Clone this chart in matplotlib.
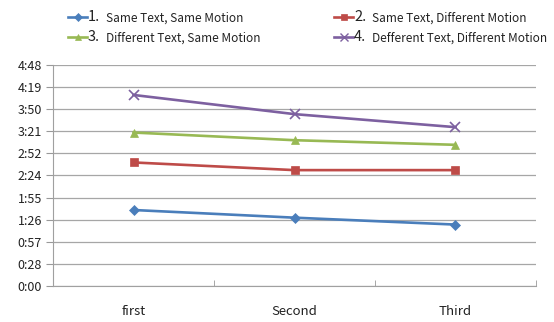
import numpy as np
import matplotlib
matplotlib.use("Agg")
import matplotlib.pyplot as plt
from matplotlib.lines import Line2D

plt.rcParams["font.family"] = ["Noto Sans CJK KR", "DejaVu Sans"]

# ---- data (seconds) ----
categories = ["first", "Second", "Third"]
s1 = [99, 89, 80]      # 1. Same Text, Same Motion
s2 = [161, 151, 151]   # 2. Same Text, Different Motion
s3 = [200, 190, 184]   # 3. Different Text, Same Motion
s4 = [249, 224, 207]   # 4. Defferent Text, Different Motion
ytick_vals = [0, 28.8, 57.6, 86.4, 115.2, 144, 172.8, 201.6, 230.4, 259.2, 288]
ytick_labels = ["0:00", "0:28", "0:57", "1:26", "1:55", "2:24", "2:52",
                "3:21", "3:50", "4:19", "4:48"]

series = [
    (s1, "#4A7EBB", "D", 5, "1.", "Same Text, Same Motion"),
    (s2, "#BE4B48", "s", 6, "2.", "Same Text, Different Motion"),
    (s3, "#98B954", "^", 6, "3.", "Different Text, Same Motion"),
    (s4, "#7D60A0", "x", 7, "4.", "Defferent Text, Different Motion"),
]

fig = plt.figure(figsize=(5.54, 3.22), dpi=100)
ax = fig.add_axes([0.0957, 0.112, 0.8718, 0.686])

x = np.arange(len(categories))
for vals, col, mk, ms, num, lab in series:
    ax.plot(x, vals, color=col, lw=1.9, marker=mk, markersize=ms,
            markeredgewidth=1.2 if mk == "x" else 0.5, markeredgecolor=col, zorder=3)

ax.set_xlim(-0.5, 2.5)
ax.set_ylim(0, 288)
ax.set_yticks(ytick_vals)
ax.set_yticklabels(ytick_labels)
ax.set_xticks(x)
ax.set_xticklabels(categories)
ax.set_xticks([-0.5, 0.5, 1.5, 2.5], minor=True)
ax.tick_params(axis="x", which="major", length=0, pad=14, labelsize=9.5, colors="#222222")
ax.tick_params(axis="x", which="minor", length=4, color="#999999", direction="in")
ax.tick_params(axis="y", length=5, color="#999999", labelsize=9, colors="#222222", pad=3)
ax.tick_params(axis="y", color="#999999")
ax.grid(axis="y", color="#a6a6a6", lw=0.9)
ax.set_axisbelow(True)
for side in ("top", "right"):
    ax.spines[side].set_visible(False)
for side in ("left", "bottom"):
    ax.spines[side].set_color("#a0a0a0")

# ---- legend drawn manually (number larger than label) ----
W, H = 554.0, 322.0
pos = [(68, 17), (334, 17), (68, 37), (334, 37)]
for (vals, col, mk, ms, num, lab), (px, py) in zip(series, pos):
    yy = 1 - py / H
    fig.add_artist(Line2D([px / W, (px + 19) / W], [yy, yy], color=col, lw=1.9,
                          transform=fig.transFigure))
    fig.add_artist(Line2D([(px + 9.5) / W], [yy], color=col, marker=mk,
                          markersize=ms - 1, markeredgewidth=1.0 if mk == "x" else 0.5,
                          transform=fig.transFigure))
    fig.text((px + 20) / W, yy, num, fontsize=10.5, va="center", ha="left", color="#222222")
    fig.text((px + 38) / W, yy - 1.5 / H, lab, fontsize=8.5, va="center", ha="left",
             color="#222222")

fig.savefig("out.png", dpi=100)
